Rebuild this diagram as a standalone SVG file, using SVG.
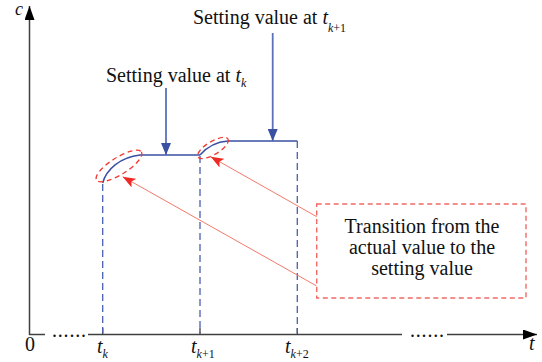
<svg xmlns="http://www.w3.org/2000/svg" width="542" height="362" viewBox="0 0 542 362">
<defs>
<style>
.axis{stroke:#404040;stroke-width:1.5;fill:none}
.tick{stroke:#404040;stroke-width:1.3}
.vdash{stroke:#4a5fb0;stroke-width:1.3;stroke-dasharray:7,4;fill:none}
.curve{stroke:#3a50a3;stroke-width:1.5;fill:none}
.stem{stroke:#5d70bc;stroke-width:1.8;fill:none}
.ell{stroke:#ef3a33;stroke-width:1.3;stroke-dasharray:5,3.5;fill:none}
.rline{stroke:#f27a6c;stroke-width:1;fill:none}
.box{stroke:#f06a66;stroke-width:1.4;stroke-dasharray:5,3.5;fill:none}
text{font-family:'Liberation Serif','Times New Roman','DejaVu Serif',serif;fill:#111}
.lbl{font-size:20px}
.it{font-style:italic}
.sub{font-size:12px}
</style>
<marker id="bArr" markerWidth="12" markerHeight="10" refX="12" refY="5" orient="auto" markerUnits="userSpaceOnUse">
<path d="M0,0 L12,5 L0,10 Z" fill="#3a50a3"/>
</marker>
<marker id="rArr" markerWidth="13" markerHeight="10" refX="13" refY="5" orient="auto" markerUnits="userSpaceOnUse">
<path d="M0,0 L13,5 L0,10 L3,5 Z" fill="#ee2a24"/>
</marker>
<marker id="kArr" markerWidth="14" markerHeight="10" refX="14" refY="5" orient="auto" markerUnits="userSpaceOnUse">
<path d="M0,0 L14,5 L0,10 Z" fill="#000"/>
</marker>
</defs>

<g id="axes">
<line class="axis" x1="29.5" y1="335" x2="29.5" y2="6" marker-end="url(#kArr)"/>
<line class="axis" x1="29" y1="334.5" x2="45" y2="334.5"/>
<line class="axis" x1="88" y1="334.5" x2="402" y2="334.5"/>
<line class="axis" x1="447" y1="334.5" x2="537" y2="334.5" marker-end="url(#kArr)"/>
<text x="52" y="336.5" font-size="20" letter-spacing="0.8">......</text>
<text x="410" y="336.5" font-size="20" letter-spacing="0.8">......</text>
<line class="tick" x1="102.7" y1="328" x2="102.7" y2="334"/>
<line class="tick" x1="200" y1="328" x2="200" y2="334"/>
<line class="tick" x1="297.3" y1="328" x2="297.3" y2="334"/>
<text class="it" x="15" y="15" font-size="18">c</text>
<text class="lbl" x="25" y="351">0</text>
<text class="lbl it" x="529" y="350">t</text>
<text class="lbl" x="97" y="353"><tspan class="it">t</tspan><tspan class="sub it" dy="5">k</tspan></text>
<text class="lbl" x="191" y="353"><tspan class="it">t</tspan><tspan class="sub" dy="5"><tspan class="it">k</tspan>+1</tspan></text>
<text class="lbl" x="285" y="353"><tspan class="it">t</tspan><tspan class="sub" dy="5"><tspan class="it">k</tspan>+2</tspan></text>
</g>

<g id="signal">
<path class="curve" d="M102.7,183 C106,170 120,157 140,155 L200,155"/>
<path class="curve" d="M200,155 C206,148 214,142 228,141 L297.3,141"/>
<line class="vdash" x1="102.7" y1="184" x2="102.7" y2="333"/>
<line class="vdash" x1="200" y1="156" x2="200" y2="333"/>
<line class="vdash" x1="297.3" y1="141" x2="297.3" y2="333"/>
</g>

<g id="setting-k">
<text class="lbl" x="106" y="82">Setting value at <tspan class="it">t</tspan><tspan class="sub it" dy="5">k</tspan></text>
</g>
<g id="setting-k1">
<text class="lbl" x="193" y="24">Setting value at <tspan class="it">t</tspan><tspan class="sub" dy="8"><tspan class="it">k</tspan>+1</tspan></text>
</g>

<g id="transition-box">
<rect class="box" x="316.7" y="204" width="209.3" height="94"/>
<text class="lbl" text-anchor="middle" x="422" y="233">Transition from the</text>
<text class="lbl" text-anchor="middle" x="422" y="254">actual value to the</text>
<text class="lbl" text-anchor="middle" x="422" y="275">setting value</text>
</g>

<g id="ellipses">
<ellipse class="ell" cx="119" cy="166" rx="26.5" ry="8.5" transform="rotate(-32 119 166)"/>
<ellipse class="ell" cx="213" cy="148" rx="17.5" ry="6.5" transform="rotate(-31 213 148)"/>
</g>

<g id="connectors">
<line class="stem" x1="166" y1="88" x2="166" y2="155" marker-end="url(#bArr)"/>
<line class="stem" x1="272.7" y1="33" x2="272.7" y2="141" marker-end="url(#bArr)"/>
<line class="rline" x1="316.7" y1="286" x2="122.7" y2="176.7" marker-end="url(#rArr)"/>
<line class="rline" x1="316.7" y1="216.7" x2="210.7" y2="156.7" marker-end="url(#rArr)"/>
</g>
</svg>
